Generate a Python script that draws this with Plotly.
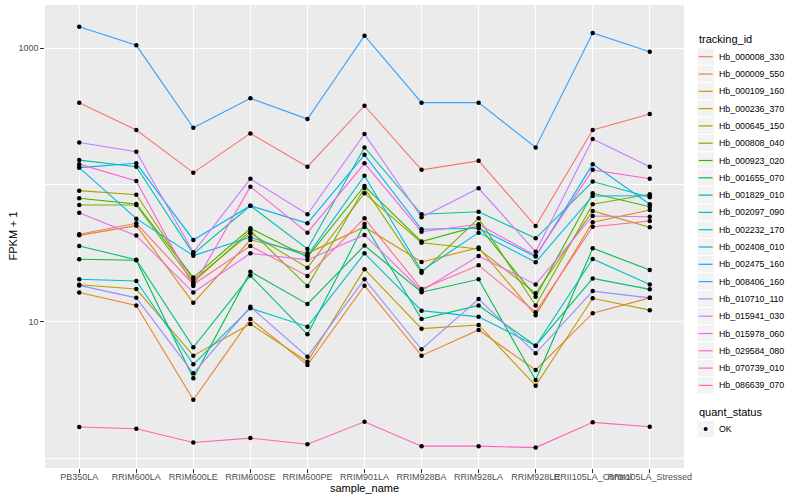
import plotly.graph_objects as go

# ---------------- data ----------------
samples = ["PB350LA", "RRIM600LA", "RRIM600LE", "RRIM600SE", "RRIM600PE", "RRIM901LA",
           "RRIM928BA", "RRIM928LA", "RRIM928LE", "RRII105LA_Control", "RRII105LA_Stressed"]

tracking_ids = ["Hb_000008_330", "Hb_000009_550", "Hb_000109_160", "Hb_000236_370",
                "Hb_000645_150", "Hb_000808_040", "Hb_000923_020", "Hb_001655_070",
                "Hb_001829_010", "Hb_002097_090", "Hb_002232_170", "Hb_002408_010",
                "Hb_002475_160", "Hb_008406_160", "Hb_010710_110", "Hb_015941_030",
                "Hb_015978_060", "Hb_029584_080", "Hb_070739_010", "Hb_086639_070"]

Hb_000008_330 = [399, 252, 123, 238, 136, 379, 129, 150, 50.2, 252, 330]
Hb_000009_550 = [16.4, 13.2, 2.70, 10.5, 4.85, 18.4, 5.68, 8.74, 4.46, 11.6, 15.0]
Hb_000109_160 = [42.9, 50.5, 13.8, 39.7, 31.7, 49.4, 27.4, 34.9, 11.2, 53.4, 65.7]
Hb_000236_370 = [18.7, 17.4, 5.68, 9.67, 5.13, 24.3, 8.94, 9.51, 3.43, 14.9, 12.2]
Hb_000645_150 = [90.9, 85.0, 20.3, 44.4, 24.9, 87.0, 37.9, 34.1, 16.2, 64.6, 49.1]
Hb_000808_040 = [71.4, 71.4, 19.5, 46.4, 18.3, 95.1, 22.9, 57.1, 13.2, 72.3, 85.5]
Hb_000923_020 = [80.0, 72.7, 21.1, 48.3, 29.8, 98.3, 38.6, 50.2, 15.3, 87.0, 69.4]
Hb_001655_070 = [28.7, 28.2, 3.88, 23.3, 13.5, 36.1, 16.5, 20.5, 3.77, 34.5, 24.0]
Hb_001829_010 = [35.9, 28.5, 6.54, 21.8, 8.13, 51.9, 10.5, 13.2, 6.71, 20.8, 17.3]
Hb_002097_090 = [152, 136, 31.4, 70.6, 34.1, 188, 61.1, 63.8, 40.8, 106, 81.3]
Hb_002232_170 = [20.5, 19.9, 4.91, 12.6, 9.24, 31.7, 12.1, 10.9, 6.71, 28.8, 18.8]
Hb_002408_010 = [134, 56.8, 30.5, 41.5, 30.5, 117, 23.6, 44.9, 27.3, 83.1, 83.5]
Hb_002475_160 = [134, 144, 39.7, 70.6, 52.5, 166, 47.5, 48.3, 30.0, 142, 72.3]
Hb_008406_160 = [1431, 1046, 262, 429, 303, 1229, 399, 399, 188, 1287, 940]
Hb_010710_110 = [18.5, 15.0, 4.22, 12.9, 5.58, 20.5, 6.32, 14.7, 5.91, 16.8, 15.0]
Hb_015941_030 = [204, 175, 32.3, 111, 61.1, 236, 58.1, 94.6, 32.6, 217, 136]
Hb_015978_060 = [62.8, 42.7, 16.4, 31.7, 28.4, 43.2, 16.9, 30.3, 18.8, 59.4, 58.7]
Hb_029584_080 = [142, 107, 18.3, 97.2, 44.9, 144, 45.6, 51.7, 30.5, 129, 111]
Hb_070739_010 = [1.71, 1.66, 1.32, 1.42, 1.28, 1.87, 1.24, 1.24, 1.21, 1.85, 1.72]
Hb_086639_070 = [43.7, 52.5, 18.8, 35.9, 21.7, 57.1, 17.4, 25.9, 11.8, 49.6, 54.6]

series_values = [Hb_000008_330, Hb_000009_550, Hb_000109_160, Hb_000236_370,
                 Hb_000645_150, Hb_000808_040, Hb_000923_020, Hb_001655_070,
                 Hb_001829_010, Hb_002097_090, Hb_002232_170, Hb_002408_010,
                 Hb_002475_160, Hb_008406_160, Hb_010710_110, Hb_015941_030,
                 Hb_015978_060, Hb_029584_080, Hb_070739_010, Hb_086639_070]

quant_status = ["OK"]
y_tick_vals = [10, 1000]
y_tick_text = ["10", "1000"]

# ---------------- style ----------------
colors = ["#F8766D", "#EA8331", "#D89000", "#C09B00", "#A3A500", "#7CAE00", "#39B600",
          "#00BB4E", "#00BF7D", "#00C1A3", "#00BFC4", "#00BAE0", "#00B0F6", "#35A2FF",
          "#9590FF", "#C77CFF", "#E76BF3", "#FA62DB", "#FF62BC", "#FF6C91"]

FONT = "Liberation Sans, Arial, Helvetica, sans-serif"
W, H = 800, 500
ML, MR, MT, MB = 45, 116, 5, 32
PW, PH = W - ML - MR, H - MT - MB


def px(x):
    return (x - ML) / PW


def py(y):
    return (H - MB - y) / PH


fig = go.Figure()

# lines first (like geom_line), then points (geom_point)
for name, vals, col in zip(tracking_ids, series_values, colors):
    fig.add_trace(go.Scatter(x=samples, y=vals, mode="lines", name=name,
                             line=dict(color=col, width=1.1), showlegend=False))
for name, vals in zip(tracking_ids, series_values):
    fig.add_trace(go.Scatter(x=samples, y=vals, mode="markers", name=name,
                             marker=dict(color="black", size=4.5),
                             showlegend=False, hoverinfo="skip"))

fig.update_layout(
    width=W, height=H,
    margin=dict(l=ML, r=MR, t=MT, b=MB, pad=0, autoexpand=False),
    paper_bgcolor="white", plot_bgcolor="#EBEBEB",
    font=dict(family=FONT, size=9, color="#4D4D4D"),
    showlegend=False,
)

fig.update_xaxes(type="category", range=[-0.6, len(samples) - 0.4],
                 automargin=False, tickangle=0, ticklabelstandoff=-4,
                 showgrid=True, gridcolor="white", gridwidth=1.1,
                 zeroline=False, showline=False,
                 ticks="outside", ticklen=3.7, tickwidth=1, tickcolor="#333333",
                 tickfont=dict(family=FONT, size=9, color="#4D4D4D"))

fig.update_yaxes(type="log", range=[-0.066, 3.314], automargin=False,
                 tickmode="array", tickvals=y_tick_vals, ticktext=y_tick_text,
                 showgrid=True, gridcolor="white", gridwidth=1.1,
                 minor=dict(tickmode="array", tickvals=[1, 100], showgrid=True,
                            gridcolor="white", gridwidth=0.55, ticks=""),
                 zeroline=False, showline=False,
                 ticks="outside", ticklen=3.7, tickwidth=1, tickcolor="#333333",
                 tickfont=dict(family=FONT, size=9, color="#4D4D4D"))

annotations = []
shapes = []

# axis titles
annotations.append(dict(text="sample_name", xref="paper", yref="paper",
                        x=px(364.5), y=py(488), xanchor="center", yanchor="middle",
                        showarrow=False, font=dict(family=FONT, size=11, color="black")))
annotations.append(dict(text="FPKM + 1", xref="paper", yref="paper",
                        x=px(12), y=py(236.5), xanchor="center", yanchor="middle",
                        textangle=-90, showarrow=False,
                        font=dict(family=FONT, size=11, color="black")))

# legend: tracking_id
LX = 697
KEY = 17.3
annotations.append(dict(text="tracking_id", xref="paper", yref="paper",
                        x=px(LX), y=py(39), xanchor="left", yanchor="middle",
                        showarrow=False, font=dict(family=FONT, size=11, color="black")))
y0 = 56.7
for i, (name, col) in enumerate(zip(tracking_ids, colors)):
    yc = y0 + i * KEY
    shapes.append(dict(type="rect", xref="paper", yref="paper",
                       x0=px(LX), x1=px(LX + KEY), y0=py(yc - KEY / 2), y1=py(yc + KEY / 2),
                       fillcolor="#F2F2F2", line=dict(color="white", width=1), layer="above"))
    shapes.append(dict(type="line", xref="paper", yref="paper",
                       x0=px(LX + 1.7), x1=px(LX + KEY - 1.7), y0=py(yc), y1=py(yc),
                       line=dict(color=col, width=1.2), layer="above"))
    annotations.append(dict(text=name, xref="paper", yref="paper",
                            x=px(LX + KEY + 2.5), y=py(yc), xanchor="left", yanchor="middle",
                            showarrow=False, font=dict(family=FONT, size=8.8, color="black")))

# legend: quant_status
annotations.append(dict(text="quant_status", xref="paper", yref="paper",
                        x=px(LX), y=py(412), xanchor="left", yanchor="middle",
                        showarrow=False, font=dict(family=FONT, size=11, color="black")))
yc = 429
shapes.append(dict(type="rect", xref="paper", yref="paper",
                   x0=px(LX), x1=px(LX + KEY), y0=py(yc - KEY / 2), y1=py(yc + KEY / 2),
                   fillcolor="#F2F2F2", line=dict(color="white", width=1), layer="above"))
shapes.append(dict(type="circle", xref="paper", yref="paper",
                   x0=px(LX + KEY / 2 - 2), x1=px(LX + KEY / 2 + 2),
                   y0=py(yc + 2), y1=py(yc - 2),
                   fillcolor="black", line=dict(color="black", width=0), layer="above"))
annotations.append(dict(text=quant_status[0], xref="paper", yref="paper",
                        x=px(LX + KEY + 2.5), y=py(yc), xanchor="left", yanchor="middle",
                        showarrow=False, font=dict(family=FONT, size=8.8, color="black")))

fig.update_layout(annotations=annotations, shapes=shapes)

fig.write_html("out.html", config={"displayModeBar": False},
               post_script="document.body.style.margin='0px';")
